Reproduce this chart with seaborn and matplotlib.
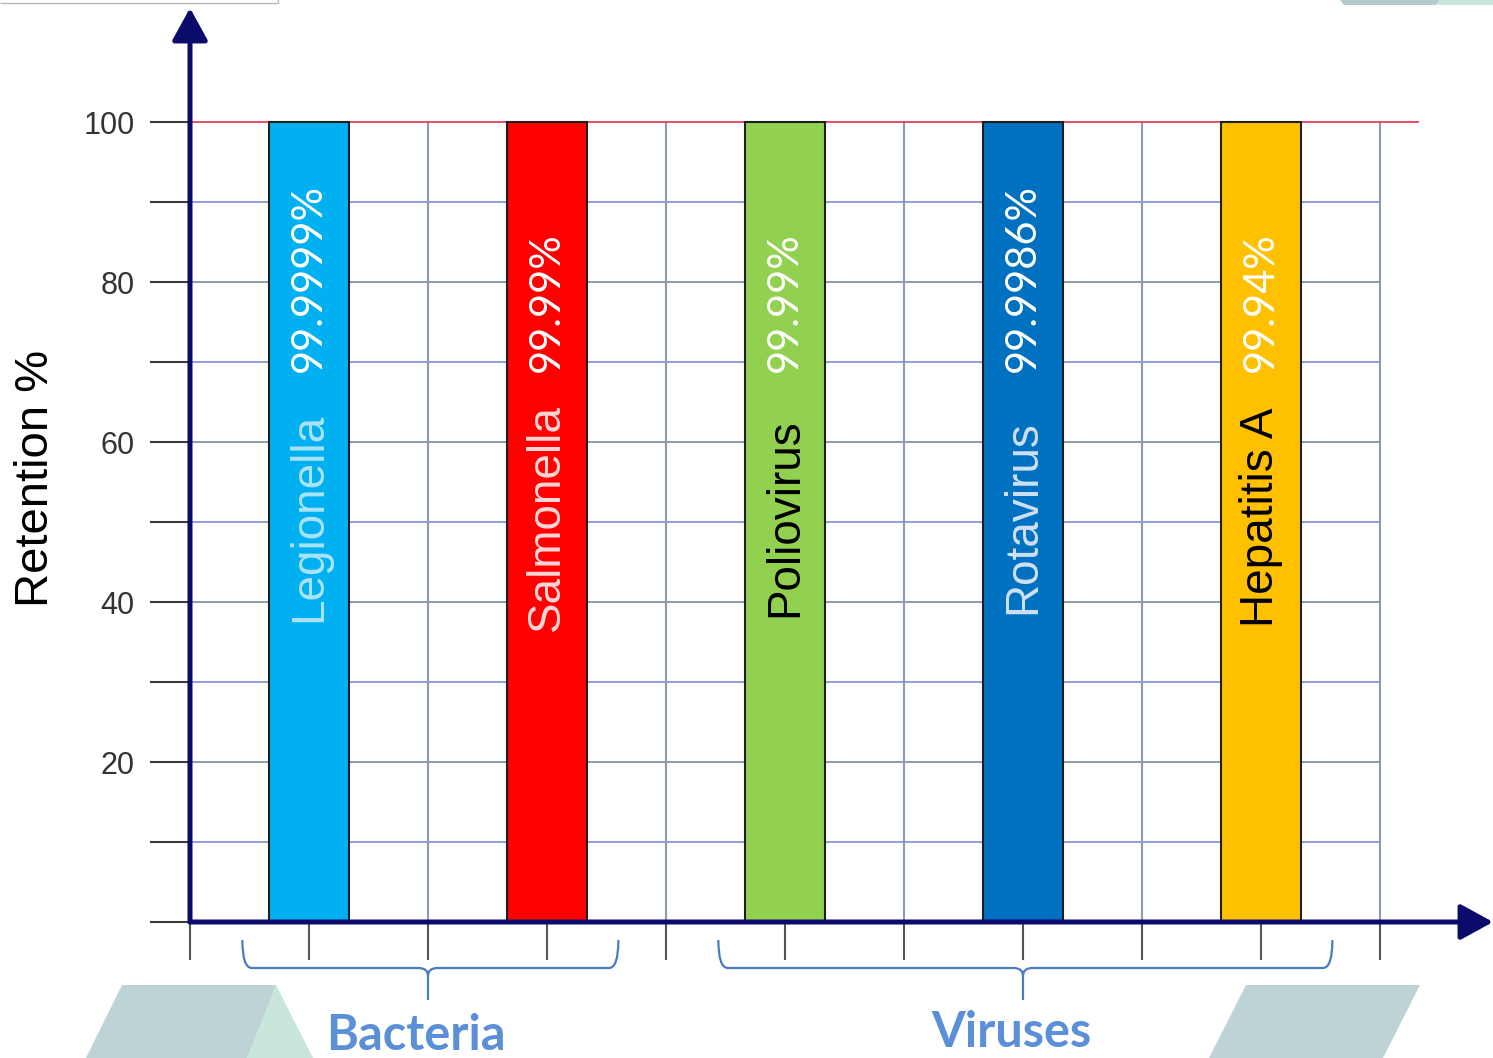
import numpy as np
import pandas as pd
import matplotlib
matplotlib.use("Agg")
import matplotlib.pyplot as plt
import seaborn as sns
from matplotlib.path import Path
from matplotlib.patches import PathPatch, Polygon
from matplotlib.transforms import Affine2D

# ---- data -------------------------------------------------------------
organisms = ["Legionella", "Salmonella", "Poliovirus", "Rotavirus", "Hepatitis A"]
retention = [99.9999, 99.99, 99.99, 99.9986, 99.94]
bar_colors = ["#00B0F0", "#FF0000", "#92D050", "#0070C0", "#FFC000"]
name_colors = ["#A9E3F7", "#FFD6D6", "#000000", "#CFE0F5", "#000000"]
groups = ["Bacteria", "Viruses"]
group_members = [["Legionella", "Salmonella"],
                 ["Poliovirus", "Rotavirus", "Hepatitis A"]]
y_ticks = list(range(0, 101, 10))
y_labels = [str(t) if (t % 20 == 0 and t > 0) else "" for t in y_ticks]
y_label = "Retention %"

# ---- layout -----------------------------------------------------------
W, H = 1493, 1058
sns.set_style("white")
plt.rcParams["font.family"] = ["Liberation Sans", "DejaVu Sans"]

fig = plt.figure(figsize=(W / 100, H / 100), dpi=100)
fig.patch.set_facecolor("white")
ax = fig.add_axes([190 / W, (H - 922) / H, (W - 190) / W, 914 / H])

# pixel-space transform (origin top-left) for slide decorations
px = Affine2D().scale(1 / W, -1 / H).translate(0, 1) + fig.transFigure

df = pd.DataFrame({
    "organism": organisms,
    "retention": retention,
    "pos": [2 * i + 1 for i in range(len(organisms))],
})
pos_of = dict(zip(df["organism"], df["pos"]))

# grid (stops at the last category slot)
x_max_grid = 2 * len(organisms)
for t in y_ticks[1:-1]:
    col = "#8593A6" if t % 20 == 0 else "#8796DA"
    ax.hlines(t, 0, x_max_grid, color=col, lw=1.3, zorder=1)
for xv in range(1, x_max_grid + 1):
    col = "#8C9BB0" if xv % 2 == 0 else "#A3B0C2"
    ax.vlines(xv, 0, 100, color=col, lw=1.5 if xv % 2 == 0 else 1.1, zorder=1)
ax.hlines(100, 0, x_max_grid + 0.33, color="#E5304A", lw=1.2, zorder=1)

# bars
sns.barplot(data=df, x="pos", y="retention", hue="organism",
            palette=dict(zip(organisms, bar_colors)), native_scale=True,
            width=0.336, dodge=False, legend=False, edgecolor="#1E1E1E",
            linewidth=1.5, saturation=1, ax=ax, zorder=3)

# labels inside bars
for name, val, c in zip(organisms, retention, name_colors):
    p = pos_of[name]
    ax.text(p, 68.75, f"{val:g}%", rotation=90, ha="center", va="bottom",
            color="white", fontsize=30, family=["Lato", "DejaVu Sans"], zorder=4)
    ax.text(p, 50.6, name, rotation=90, ha="center", va="center",
            color=c, fontsize=33, zorder=4)

ax.set_xlim(0, (W - 190) / 119)
ax.set_ylim(0, 914 / 8)
ax.set_xticks(range(0, x_max_grid + 1))
ax.set_xticklabels([])
ax.set_yticks(y_ticks)
ax.set_yticklabels(y_labels)
ax.set_xlabel("")
ax.set_ylabel("")
for s in ax.spines.values():
    s.set_visible(False)
ax.tick_params(axis="y", length=28.8, width=1.5, color="#3A3A3A", pad=11,
               labelsize=22, labelcolor="#333333", left=True)
ax.tick_params(axis="x", length=27, width=1.5, color="#555555", bottom=True)

# arrow axes
navy = "#0B0B6B"
arrow = dict(arrowstyle="-|>,head_length=1.0,head_width=0.55", lw=3.6,
             color=navy, mutation_scale=20, shrinkA=0, shrinkB=0)
ax.annotate("", xy=(0, 1), xytext=(0, 0), xycoords="axes fraction",
            textcoords="axes fraction", arrowprops=arrow,
            annotation_clip=False, zorder=6)
ax.annotate("", xy=(1, 0), xytext=(0, 0), xycoords="axes fraction",
            textcoords="axes fraction", arrowprops=arrow,
            annotation_clip=False, zorder=6)

fig.text(36 / W, 1 - 478 / H, y_label, rotation=90, ha="center", va="center",
         fontsize=34, color="black")

# group braces and captions
brace_col = "#4A7CC0"
label_col = "#5B8FD8"
y_top, y_mid, y_tip = -2.25, -5.75, -9.75
r, ry = 0.08, 1.0
for g, members, base in zip(groups, group_members, [1050, 1047]):
    ps = [pos_of[m] for m in members]
    x0, x1 = min(ps) - 0.56, max(ps) + 0.6
    xc = float(np.mean(ps))
    verts = [(x0, y_top), (x0, y_mid), (x0 + r, y_mid), (xc - r, y_mid),
             (xc, y_mid), (xc, y_mid - ry), (xc, y_tip),
             (x1, y_top), (x1, y_mid), (x1 - r, y_mid), (xc + r, y_mid),
             (xc, y_mid), (xc, y_mid - ry)]
    codes = [Path.MOVETO, Path.CURVE3, Path.CURVE3, Path.LINETO,
             Path.CURVE3, Path.CURVE3, Path.LINETO,
             Path.MOVETO, Path.CURVE3, Path.CURVE3, Path.LINETO,
             Path.CURVE3, Path.CURVE3]
    ax.add_patch(PathPatch(Path(verts, codes), fill=False, ec=brace_col,
                           lw=1.6, clip_on=False, zorder=5))
    xc_px = 190 + xc * 119
    fig.text(xc_px / W - 12 / W, 1 - base / H, g, ha="center", va="baseline",
             fontsize=35, fontweight="bold", color=label_col,
             family=["Lato", "DejaVu Sans"])

# slide decorations
teal, mint = "#BDD3D5", "#C8E6D9"
fig.patches.extend([
    Polygon([(85, 1060), (122, 985), (276, 985), (250, 1060)], closed=True,
            fc=teal, ec="none", transform=px, figure=fig),
    Polygon([(276, 985), (314, 1060), (246, 1060)], closed=True,
            fc=mint, ec="none", transform=px, figure=fig),
    Polygon([(1208, 1060), (1246, 985), (1420, 985), (1382, 1060)], closed=True,
            fc=teal, ec="none", transform=px, figure=fig),
    Polygon([(1340, 0), (1440, 0), (1436, 5), (1344, 5)], closed=True,
            fc="#B4CBCD", ec="none", transform=px, figure=fig),
    Polygon([(1440, 0), (1493, 0), (1493, 5), (1436, 5)], closed=True,
            fc=mint, ec="none", transform=px, figure=fig),
    Polygon([(0, 3), (278, 3), (278, -1)], closed=False, fill=False,
            ec="#BBBBBB", lw=1, transform=px, figure=fig),
])

fig.savefig("out.png", dpi=100, facecolor="white")
